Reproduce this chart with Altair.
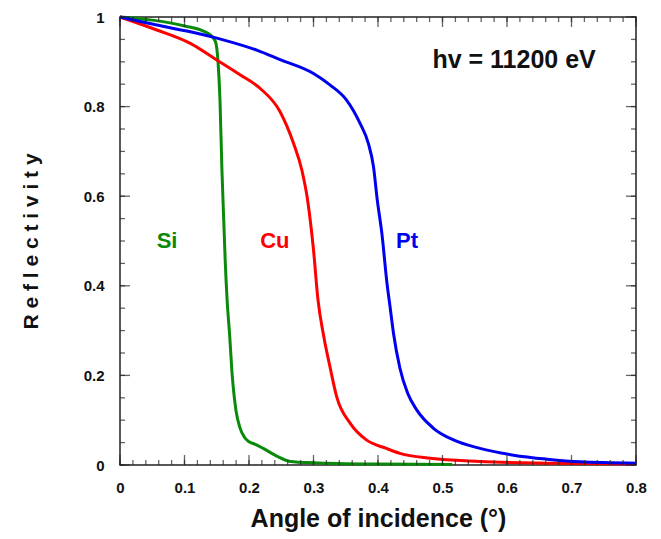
import altair as alt
import pandas as pd

# ---- data ----
si_x = [0, 0.05, 0.10, 0.13, 0.14, 0.148, 0.152, 0.155, 0.158, 0.161, 0.163, 0.166, 0.170, 0.174,
        0.180, 0.186, 0.193, 0.20, 0.21, 0.222, 0.243, 0.264, 0.30, 0.40, 0.515]
si_r = [1.0, 0.993, 0.98, 0.968, 0.96, 0.945, 0.90, 0.815, 0.66, 0.54, 0.46, 0.37, 0.29, 0.20,
        0.12, 0.083, 0.062, 0.052, 0.046, 0.037, 0.02, 0.008, 0.005, 0.002, 0.001]

cu_x = [0, 0.057, 0.109, 0.150, 0.186, 0.217, 0.248, 0.269, 0.282, 0.291, 0.300, 0.307,
        0.315, 0.326, 0.336, 0.357, 0.382, 0.413, 0.434, 0.481, 0.558, 0.662, 0.80]
cu_r = [1.0, 0.971, 0.941, 0.904, 0.871, 0.841, 0.789, 0.718, 0.658, 0.59, 0.48, 0.368,
        0.294, 0.216, 0.152, 0.093, 0.056, 0.037, 0.026, 0.015, 0.008, 0.004, 0.002]

pt_x = [0, 0.057, 0.109, 0.160, 0.212, 0.248, 0.300, 0.326, 0.351, 0.372, 0.385, 0.393, 0.399,
        0.406, 0.414, 0.419, 0.424, 0.434, 0.446, 0.460, 0.486, 0.517, 0.558, 0.610, 0.662,
        0.713, 0.80]
pt_r = [1.0, 0.982, 0.967, 0.949, 0.926, 0.905, 0.874, 0.848, 0.815, 0.763, 0.718, 0.666, 0.59,
        0.517, 0.405, 0.35, 0.294, 0.216, 0.16, 0.123, 0.082, 0.056, 0.037, 0.022, 0.013,
        0.007, 0.004]

materials = ["Si", "Cu", "Pt"]
colors = ["#0a8a0a", "#ff0000", "#0000f0"]
label_x = [0.073, 0.240, 0.445]
label_y = [0.50, 0.50, 0.50]

x_domain = [0, 0.8]
y_domain = [0, 1]
x_major = [0, 0.1, 0.2, 0.3, 0.4, 0.5, 0.6, 0.7, 0.8]
x_minor = [round(i * 0.02, 2) for i in range(41)]
y_major = [0, 0.2, 0.4, 0.6, 0.8, 1]
y_minor = [round(i * 0.05, 2) for i in range(21)]

annot_text = "hv = 11200 eV"
annot_x = [0.611]
annot_y = [0.904]

W, H = 516, 448
FONT = "Liberation Sans"
TICK = "#222"

rows = []
for name, xs_, rs_ in [("Si", si_x, si_r), ("Cu", cu_x, cu_r), ("Pt", pt_x, pt_r)]:
    for i, (a, b) in enumerate(zip(xs_, rs_)):
        rows.append({"mat": name, "angle": a, "refl": b, "order": i})
df = pd.DataFrame(rows)
lab = pd.DataFrame({"mat": materials, "angle": label_x, "refl": label_y})
ann = pd.DataFrame({"t": [annot_text], "angle": annot_x, "refl": annot_y})

xs = alt.Scale(domain=x_domain, nice=False, zero=False)
ys = alt.Scale(domain=y_domain, nice=False, zero=False)
col = alt.Scale(domain=materials, range=colors)

lines = alt.Chart(df).mark_line(strokeWidth=3, interpolate="monotone").encode(
    x=alt.X("angle:Q", scale=xs,
            axis=alt.Axis(orient="bottom", values=x_major, format="~g", ticks=False, tickSize=0,
                          domain=False, grid=False, labelFont=FONT, labelFontSize=15,
                          labelFontWeight="bold", labelColor="#111", labelPadding=15,
                          labelFlush=False,
                          title="Angle of incidence (°)", titleFont=FONT, titleFontSize=25,
                          titleFontWeight="bold", titleColor="#111", titlePadding=11)),
    y=alt.Y("refl:Q", scale=ys,
            axis=alt.Axis(orient="left", values=y_major, format="~g", ticks=False, tickSize=0,
                          domain=False, grid=False, labelFont=FONT, labelFontSize=15,
                          labelFontWeight="bold", labelColor="#111", labelPadding=16,
                          labelFlush=False,
                          title="R e f l e c t i v i t y", titleFont=FONT, titleFontSize=21,
                          titleFontWeight="bold", titleColor="#111", titlePadding=42)),
    color=alt.Color("mat:N", scale=col, legend=None),
    order="order:Q",
    detail="mat:N",
)


def xticks(values, size, edge, sign):
    d = pd.DataFrame({"angle": values, "refl": [edge] * len(values)})
    return alt.Chart(d).mark_tick(color=TICK, thickness=1.3, size=size, orient="vertical",
                                  yOffset=sign * size / 2).encode(
        x=alt.X("angle:Q", scale=xs),
        y=alt.Y("refl:Q", scale=ys),
    )


def yticks(values, size, edge, sign):
    d = pd.DataFrame({"angle": [edge] * len(values), "refl": values})
    return alt.Chart(d).mark_tick(color=TICK, thickness=1.3, size=size, orient="horizontal",
                                  xOffset=sign * size / 2).encode(
        x=alt.X("angle:Q", scale=xs),
        y=alt.Y("refl:Q", scale=ys),
    )


tick_layers = [
    xticks(x_minor, 5, y_domain[0], -1), xticks(x_major, 10, y_domain[0], -1),
    xticks(x_minor, 5, y_domain[1], 1), xticks(x_major, 10, y_domain[1], 1),
    yticks(y_minor, 5, x_domain[0], 1), yticks(y_major, 10, x_domain[0], 1),
    yticks(y_minor, 5, x_domain[1], -1), yticks(y_major, 10, x_domain[1], -1),
]

labels = alt.Chart(lab).mark_text(font=FONT, fontSize=22, fontWeight="bold",
                                  align="center", baseline="middle").encode(
    x=alt.X("angle:Q", scale=xs),
    y=alt.Y("refl:Q", scale=ys),
    text="mat:N",
    color=alt.Color("mat:N", scale=col, legend=None),
)

annot = alt.Chart(ann).mark_text(font=FONT, fontSize=25, fontWeight="bold", color="#111",
                                 align="center", baseline="middle").encode(
    x=alt.X("angle:Q", scale=xs),
    y=alt.Y("refl:Q", scale=ys),
    text="t:N",
)

chart = alt.layer(lines, *tick_layers, labels, annot).properties(
    width=W, height=H,
    autosize=alt.AutoSizeParams(type="none"),
    padding={"left": 120, "top": 17, "right": 25, "bottom": 74},
    background="white",
).configure_view(stroke="#222", strokeWidth=1.5)

chart.save("out.html", embed_options={"renderer": "svg", "actions": False})
